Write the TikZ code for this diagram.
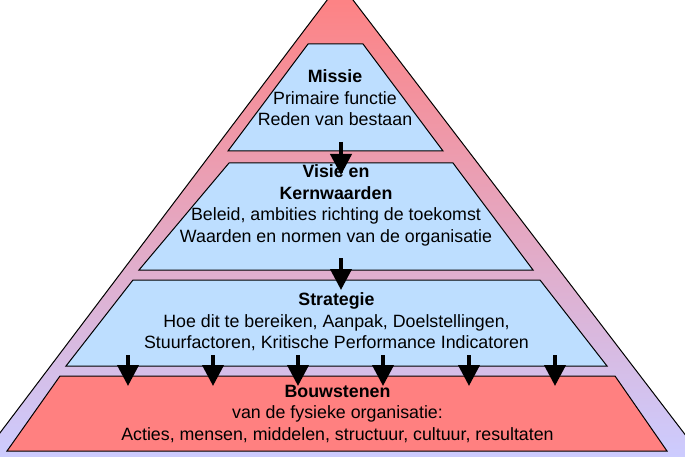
\documentclass[tikz,border=0pt]{standalone}
\usepackage{fontspec}
\setmainfont{Liberation Sans}
\usetikzlibrary{arrows.meta}

\definecolor{hemelblauw}{RGB}{189,222,255}
\definecolor{zalm}{RGB}{255,128,128}
\definecolor{lila}{RGB}{204,204,255}

\tikzset{
	laag/.style={draw=black, line width=1pt},
	tekst/.style={align=center, inner sep=0pt, font=\fontsize{17.8}{21.5}\selectfont},
	pijl/.style={line width=4pt, -{Triangle[width=21pt, length=21pt]}}
}

\begin{document}
\begin{tikzpicture}[x=1pt, y=-1pt]
	
	\useasboundingbox (0, 0) rectangle (685, 457);
	\clip (0, 0) rectangle (685, 457);
	
	\shadedraw[top color=zalm, bottom color=lila, line width=1pt] (340, -17) -- (-19, 458) -- (703, 458) -- cycle;
	
	\draw[laag, fill=hemelblauw] (308, 44) -- (363, 44) -- (443, 151) -- (228, 151) -- cycle;
	\draw[laag, fill=hemelblauw] (229, 163) -- (453, 163) -- (533, 270) -- (139, 270) -- cycle;
	\draw[laag, fill=hemelblauw] (133, 280) -- (540, 280) -- (607, 366) -- (66, 366) -- cycle;
	\draw[laag, fill=zalm] (60, 376) -- (615, 376) -- (667, 451) -- (7, 451) -- cycle;
	
	\node[tekst] (missie) at (335, 98) {\textbf{Missie}\\Primaire functie\\Reden van bestaan};
	\node[tekst] (visie) at (336, 205.5) {\textbf{Visie en}\\\textbf{Kernwaarden}\\Beleid, ambities richting de toekomst\\Waarden en normen van de organisatie};
	\node[tekst] (strategie) at (336.5, 322) {\textbf{Strategie}\\Hoe dit te bereiken, Aanpak, Doelstellingen,\\Stuurfactoren, Kritische Performance Indicatoren};
	\node[tekst] (bouwstenen) at (337.5, 414) {\textbf{Bouwstenen}\\van de fysieke organisatie:\\Acties, mensen, middelen, structuur, cultuur, resultaten};
	
	\coordinate (missie-uit) at (341, 142);
	\coordinate (visie-in) at (341, 175);
	\draw[pijl] (missie-uit) -- (visie-in);
	
	\coordinate (visie-uit) at (341, 258);
	\coordinate (strategie-in) at (341, 290);
	\draw[pijl] (visie-uit) -- (strategie-in);
	
	\foreach \x [count=\i] in {128, 213, 298, 383, 469, 555} {
		\coordinate (strategie-uit-\i) at (\x, 355);
		\coordinate (bouwstenen-in-\i) at (\x, 386);
		\draw[pijl] (strategie-uit-\i) -- (bouwstenen-in-\i);
	}
	
\end{tikzpicture}
\end{document}
